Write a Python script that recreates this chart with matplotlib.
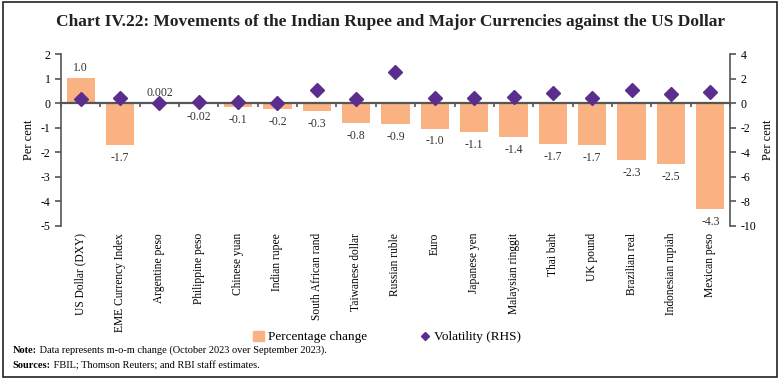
#! /usr/bin/env python3

import matplotlib
matplotlib.use( "Agg" )
import matplotlib.pyplot as plt
from matplotlib.patches import Rectangle
from matplotlib.lines import Line2D
from matplotlib.patches import Patch
import numpy as np

plt.rcParams["font.family"] = ["Liberation Serif", "DejaVu Serif"]
plt.rcParams["axes.unicode_minus"] = False

currencies = [ "US Dollar (DXY)", "EME Currency Index", "Argentine peso",
               "Philippine peso", "Chinese yuan", "Indian rupee",
               "South African rand", "Taiwanese dollar", "Russian ruble",
               "Euro", "Japanese yen", "Malaysian ringgit", "Thai baht",
               "UK pound", "Brazilian real", "Indonesian rupiah", "Mexican peso" ]
pct_change = [ 1.03, -1.70, 0.002, -0.02, -0.15, -0.25, -0.33, -0.82, -0.86,
               -1.03, -1.18, -1.39, -1.68, -1.70, -2.31, -2.49, -4.31 ]
pct_labels = [ "1.0", "-1.7", "0.002", "-0.02", "-0.1", "-0.2", "-0.3", "-0.8",
               "-0.9", "-1.0", "-1.1", "-1.4", "-1.7", "-1.7", "-2.3", "-2.5", "-4.3" ]
volatility = [ 0.32, 0.41, 0.0, 0.14, 0.08, 0.02, 1.08, 0.32, 2.54,
               0.41, 0.46, 0.54, 0.86, 0.46, 1.08, 0.76, 0.89 ]

bar_color = "#FAB283"
dot_color = "#5B2D8E"
axis_color = "#555555"

fig = plt.figure( figsize=(7.82, 3.84), dpi=100 )
ax = fig.add_axes( [0.078, 0.4115, 0.8555, 0.4475] )
ax2 = ax.twinx()

x = np.arange( len( currencies ) )
ax.bar( x, pct_change, width=0.72, color=bar_color, zorder=2 )
ax2.plot( x, volatility, linestyle="none", marker="D", markersize=7.5,
          color=dot_color, zorder=3 )

# value labels above / below the bars
for xi, v, lab in zip( x, pct_change, pct_labels ):
    if v >= 0:
        ax.annotate( lab, (xi, v), xytext=(0, 3), textcoords="offset points",
                     ha="center", va="bottom", fontsize=8.5, color="#333333" )
    else:
        ax.annotate( lab, (xi, v), xytext=(0, -5), textcoords="offset points",
                     ha="center", va="top", fontsize=8.5, color="#333333" )

ax.set_xlim( -0.5, len( currencies ) - 0.5 )
ax.set_ylim( -5, 2 )
ax2.set_ylim( -10, 4 )
ax.set_yticks( np.arange( -5, 3, 1 ) )
ax2.set_yticks( np.arange( -10, 5, 2 ) )

# zero line with boundary ticks (use top spine moved to 0)
for a in ( ax, ax2 ):
    a.spines["bottom"].set_visible( False )
    a.spines["top"].set_visible( False )
ax.spines["top"].set_visible( True )
ax.spines["top"].set_position( ( "data", 0 ) )
ax.spines["top"].set_color( axis_color )
ax.spines["top"].set_linewidth( 1.6 )
ax.spines["top"].set_zorder( 2.5 )

ax.set_xticks( x )
ax.set_xticklabels( currencies, rotation=90, fontsize=8.3 )
ax.set_xticks( np.arange( len( currencies ) + 1 ) - 0.5, minor=True )
ax.tick_params( axis="x", which="major", length=0, pad=5, top=False, bottom=True )
ax.tick_params( axis="x", which="minor", length=3, top=True, bottom=False,
                direction="in", color=axis_color, width=1.2 )

for a, side in ( ( ax, "left" ), ( ax2, "right" ) ):
    a.spines[side].set_color( axis_color )
    a.spines[side].set_linewidth( 1.2 )
ax.spines["right"].set_visible( False )
ax2.spines["left"].set_visible( False )
ax.tick_params( axis="y", labelsize=8.5, color=axis_color, width=1.2, length=4 )
ax2.tick_params( axis="y", labelsize=8.5, color=axis_color, width=1.2, length=4 )

ax.set_ylabel( "Per cent", fontsize=9, labelpad=4 )
ax2.set_ylabel( "Per cent", fontsize=9, labelpad=4 )

fig.text( 0.5, 0.943, "Chart IV.22: Movements of the Indian Rupee and Major Currencies against the US Dollar",
          ha="center", va="center", fontsize=12.5, fontweight="bold", color="#222222" )

handles = [ Patch( color=bar_color, label="Percentage change" ),
            Line2D( [], [], linestyle="none", marker="D", markersize=4,
                    color=dot_color, label="Volatility (RHS)" ) ]
fig.legend( handles=handles, loc="center", bbox_to_anchor=(0.495, 0.122),
            ncol=2, frameon=False, fontsize=9.5, handlelength=0.8, handleheight=0.8,
            handletextpad=0.3, columnspacing=4 )

# note and sources: bold lead-in followed directly by plain text
renderer = fig.canvas.get_renderer()
for ypos, lead, rest in ( ( 0.088, "Note:", " Data represents m-o-m change (October 2023 over September 2023)." ),
                          ( 0.047, "Sources:", " FBIL; Thomson Reuters; and RBI staff estimates." ) ):
    t = fig.text( 0.016, ypos, lead, fontsize=7.5, fontweight="bold", va="center" )
    bb = t.get_window_extent( renderer=renderer )
    fig.text( bb.x1 / fig.bbox.width, ypos, rest, fontsize=7.5, va="center" )

# outer frame
fig.patches.append( Rectangle( (0.004, 0.018), 0.99, 0.978, transform=fig.transFigure,
                               fill=False, edgecolor="#222222", linewidth=1.2 ) )

fig.savefig( "out.png", dpi=100 )
